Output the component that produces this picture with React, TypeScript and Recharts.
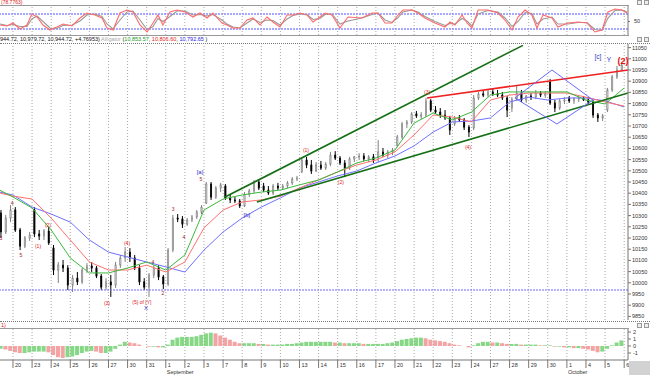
import React from 'react';
import {
  ComposedChart,
  Bar,
  Line,
  XAxis,
  YAxis,
  ReferenceLine,
  ReferenceDot,
  Cell,
} from 'recharts';

const FONT = '"Liberation Sans", Arial, sans-serif';
const T_MIN = -0.68;
const T_MAX = 32.2;
const FIRST_BAR = -0.625;
const BAR_STEP = 0.25;

// session labels, one per day boundary (Aug 20 .. Oct 6, 2010)
const dayLabels = [
  '20', '23', '24', '25', '26', '27', '30', '31', '1', '2', '3', '7', '8', '9', '10', '13', '14',
  '15', '16', '17', '20', '21', '22', '23', '24', '27', '28', '29', '30', '1', '4', '5', '6',
];
const monthLabels: Record<number, string> = { 8: 'September', 29: 'October' };

// four bars per session, first three belong to Aug 19
const opens = [
  10312, 10227, 10289,
  10325, 10236, 10164, 10200, 10325, 10218, 10209, 10231, 10155, 10057, 10079, 10066,
  9990, 10021, 10004, 10057, 10075, 10066, 10030, 9981, 10004, 9990, 10079, 10111,
  10137, 10111, 10066, 10004, 9981, 10035, 10066, 10026, 9995, 10146, 10289, 10285,
  10262, 10280, 10294, 10316, 10356, 10441, 10383, 10423, 10432, 10379, 10370, 10365,
  10343, 10396, 10410, 10450, 10432, 10414, 10401, 10432, 10423, 10432, 10446, 10463,
  10495, 10548, 10526, 10499, 10526, 10512, 10530, 10570, 10557, 10535, 10512, 10553,
  10562, 10566, 10553, 10562, 10557, 10584, 10570, 10584, 10615, 10651, 10709, 10718,
  10754, 10745, 10749, 10812, 10771, 10762, 10749, 10736, 10709, 10736, 10727, 10695,
  10691, 10825, 10843, 10838, 10852, 10843, 10838, 10825, 10780, 10820, 10847, 10816,
  10834, 10829, 10847, 10838, 10896, 10803, 10780, 10812, 10825, 10812, 10820, 10825,
  10816, 10807, 10749, 10736, 10771, 10861, 10919, 10950,
];
const highs = [
  10325, 10303, 10347,
  10338, 10245, 10209, 10227, 10338, 10236, 10240, 10249, 10169, 10093, 10102, 10079,
  10035, 10048, 10066, 10088, 10093, 10075, 10039, 10021, 10035, 10093, 10124, 10160,
  10155, 10124, 10079, 10021, 10044, 10079, 10079, 10035, 10155, 10303, 10307, 10298,
  10289, 10303, 10325, 10347, 10450, 10450, 10432, 10446, 10441, 10392, 10383, 10374,
  10405, 10419, 10459, 10463, 10446, 10432, 10441, 10446, 10441, 10454, 10472, 10477,
  10557, 10562, 10548, 10539, 10544, 10539, 10584, 10588, 10566, 10548, 10562, 10566,
  10579, 10579, 10570, 10575, 10637, 10602, 10593, 10602, 10660, 10718, 10727, 10762,
  10767, 10762, 10825, 10820, 10789, 10780, 10771, 10745, 10745, 10749, 10736, 10704,
  10838, 10852, 10856, 10861, 10865, 10861, 10852, 10834, 10829, 10883, 10861, 10838,
  10847, 10861, 10856, 10856, 10910, 10816, 10820, 10829, 10834, 10829, 10834, 10834,
  10829, 10816, 10758, 10754, 10870, 10928, 10968, 10980,
];
const lows = [
  10200, 10218, 10271,
  10227, 10146, 10155, 10187, 10204, 10191, 10191, 10169, 10035, 9999, 10048, 9968,
  9959, 9990, 9995, 10044, 10048, 10021, 9968, 9968, 9937, 9977, 10066, 10093,
  10093, 10057, 9990, 9968, 9937, 10021, 10012, 9972, 9986, 10137, 10271, 10245,
  10254, 10271, 10285, 10307, 10352, 10370, 10374, 10405, 10370, 10356, 10356, 10334,
  10338, 10383, 10401, 10414, 10405, 10392, 10392, 10414, 10414, 10423, 10437, 10454,
  10490, 10512, 10486, 10495, 10504, 10504, 10521, 10548, 10526, 10472, 10504, 10539,
  10548, 10544, 10539, 10535, 10539, 10562, 10557, 10570, 10606, 10642, 10691, 10709,
  10736, 10731, 10740, 10762, 10754, 10736, 10727, 10660, 10700, 10718, 10682, 10651,
  10682, 10816, 10829, 10829, 10834, 10829, 10816, 10740, 10762, 10812, 10807, 10803,
  10816, 10820, 10829, 10825, 10794, 10762, 10771, 10798, 10803, 10798, 10807, 10812,
  10798, 10736, 10718, 10722, 10762, 10852, 10910, 10945,
];
const closes = [
  10227, 10289, 10325,
  10236, 10164, 10200, 10213, 10218, 10209, 10231, 10178, 10057, 10079, 10066, 9990,
  10021, 10004, 10057, 10075, 10066, 10030, 9981, 10004, 9990, 10079, 10111, 10137,
  10111, 10066, 10004, 9981, 10035, 10066, 10026, 9995, 10146, 10289, 10285, 10262,
  10280, 10294, 10316, 10338, 10441, 10383, 10423, 10437, 10379, 10370, 10365, 10343,
  10396, 10410, 10450, 10423, 10414, 10401, 10432, 10423, 10432, 10446, 10463, 10468,
  10548, 10526, 10499, 10526, 10512, 10530, 10570, 10557, 10535, 10512, 10553, 10562,
  10566, 10553, 10562, 10548, 10584, 10570, 10584, 10593, 10651, 10709, 10718, 10754,
  10745, 10749, 10812, 10771, 10762, 10749, 10736, 10682, 10736, 10727, 10695, 10673,
  10825, 10843, 10838, 10852, 10843, 10838, 10825, 10771, 10820, 10847, 10816, 10834,
  10829, 10847, 10838, 10843, 10803, 10780, 10812, 10816, 10812, 10820, 10825, 10816,
  10807, 10749, 10736, 10745, 10861, 10919, 10950, 10972,
];

// awesome-oscillator style histogram, one value per bar (hundreds)
const aoValues = [
  -0.4, -0.5, -0.7,
  -0.9, -1.0, -1.0, -0.9, -0.8, -0.8, -0.8, -0.9, -1.3, -1.6, -1.7, -1.6,
  -1.5, -1.3, -1.0, -0.8, -0.7, -0.8, -1.0, -1.0, -0.8, -0.4, 0.2, 0.6,
  0.5, 0.4, 0.2, 0.0, -0.1, -0.1, -0.2, -0.2, 0.2, 0.9, 1.2, 1.3,
  1.3, 1.3, 1.4, 1.6, 1.8, 1.9, 1.8, 1.5, 1.2, 0.9, 0.6, 0.4,
  0.4, 0.4, 0.4, 0.3, 0.3, 0.2, 0.2, 0.2, 0.2, 0.3, 0.3, 0.4,
  0.5, 0.6, 0.6, 0.6, 0.6, 0.6, 0.6, 0.5, 0.5, 0.4, 0.4, 0.4,
  0.4, 0.3, 0.3, 0.3, 0.3, 0.3, 0.4, 0.5, 0.7, 0.9, 1.0, 1.1,
  1.2, 1.2, 1.1, 0.9, 0.8, 0.7, 0.6, 0.4, 0.2, 0.1, 0.0, -0.2,
  0.1, 0.4, 0.6, 0.6, 0.5, 0.5, 0.4, 0.3, 0.3, 0.3, 0.2, 0.2,
  0.2, 0.2, 0.1, 0.1, 0.1, -0.1, -0.1, -0.2, -0.2, -0.3, -0.3, -0.4,
  -0.5, -0.7, -0.9, -0.8, -0.4, 0.1, 0.5, 0.8,
];

// Alligator lines, read once per session
const maDays = [-0.7, 0, 1, 2, 3, 4, 5, 6, 7, 8, 9, 10, 11, 12, 13, 14, 15, 16, 17, 18, 19, 20, 21, 22, 23, 24, 25, 26, 27, 28, 29, 30, 31, 32];
const jaw = [10405, 10392, 10338, 10307, 10271, 10191, 10137, 10115, 10093, 10071, 10048, 10146, 10227, 10289, 10338, 10379, 10423, 10450, 10477, 10499, 10535, 10566, 10611, 10673, 10718, 10722, 10736, 10807, 10829, 10816, 10825, 10825, 10812, 10785];
const teeth = [10401, 10387, 10374, 10289, 10191, 10093, 10057, 10057, 10079, 10048, 10093, 10245, 10325, 10361, 10370, 10387, 10423, 10459, 10495, 10526, 10548, 10584, 10660, 10749, 10740, 10718, 10816, 10838, 10847, 10847, 10847, 10829, 10807, 10789];
const lips = [10414, 10383, 10334, 10236, 10111, 10044, 10044, 10066, 10093, 10057, 10124, 10325, 10374, 10392, 10405, 10414, 10437, 10459, 10495, 10535, 10557, 10593, 10713, 10758, 10727, 10762, 10838, 10852, 10852, 10852, 10852, 10816, 10798, 10870];

// stochastic
const stochDays = [
  -0.68, -0.31, 0, 0.37, 0.73, 0.99, 1.26, 1.57, 1.94, 2.3, 2.62, 3.09, 3.51, 3.87, 4.29, 4.66, 4.92, 5.24, 5.6, 5.97,
  6.28, 6.65, 7.02, 7.33, 7.59, 7.85, 8.22, 8.59, 9.01, 9.42, 9.79, 10.16, 10.47, 10.94, 11.2, 11.52, 11.88, 12.25, 12.57, 12.93,
  13.3, 13.61, 13.98, 14.35, 14.66, 15.03, 15.39, 15.71, 16.07, 16.34, 16.7, 17.12, 17.54, 18.27, 18.8, 19.11, 19.48, 19.84, 20.16, 20.42,
  20.89, 21.2, 21.57, 22.09, 22.62, 22.88, 23.14, 23.51, 23.77, 24.03, 24.35, 24.87, 25.39, 25.76, 26.13, 26.44, 26.81, 27.17, 27.43, 27.75,
  28.22, 28.53, 29.06, 29.58, 30.05, 30.47, 30.84, 31.15, 31.52, 31.88, 32.15,
];
const stochK = [
  36, 32, 44, 20, 36, 80, 68, 36, 16, 28, 40, 32, 64, 84, 76, 64, 24, 16, 84, 96,
  88, 36, 8, 44, 76, 36, 88, 96, 88, 68, 84, 64, 84, 44, 36, 24, 24, 56, 64, 36,
  68, 48, 28, 76, 76, 84, 76, 48, 68, 84, 76, 24, 68, 64, 84, 84, 44, 44, 76, 96,
  96, 84, 64, 44, 28, 48, 36, 76, 44, 24, 96, 96, 84, 56, 16, 68, 96, 76, 24, 76,
  64, 28, 44, 48, 44, 8, 16, 88, 100, 96, 84,
];
const stochD = [
  40, 34, 38, 30, 30, 60, 72, 50, 24, 22, 34, 36, 52, 76, 80, 70, 40, 20, 56, 88,
  92, 56, 18, 30, 62, 50, 70, 92, 92, 76, 78, 72, 78, 56, 40, 28, 24, 44, 60, 46,
  56, 54, 36, 60, 74, 80, 78, 58, 62, 78, 80, 40, 52, 64, 78, 84, 56, 46, 66, 88,
  96, 88, 70, 50, 34, 42, 40, 62, 52, 32, 80, 94, 88, 64, 30, 50, 86, 82, 40, 60,
  68, 40, 40, 46, 46, 18, 14, 64, 94, 96, 88,
];

const priceTicks = [9850, 9900, 9950, 10000, 10050, 10100, 10150, 10200, 10250, 10300, 10350, 10400, 10450, 10500, 10550, 10600, 10650, 10700, 10750, 10800, 10850, 10900, 10950, 11000, 11050];
const supportLevel = 9968;

// wave count labels (session time, price)
const waveLabels = [
  { t: -0.63, p: 10200, text: '3', color: '#a02020', size: 5 },
  { t: -0.05, p: 10356, text: '4', color: '#a02020', size: 5 },
  { t: 0.42, p: 10124, text: '5', color: '#a02020', size: 5 },
  { t: 1.31, p: 10164, text: '(1)', color: '#e02020', size: 5 },
  { t: 1.83, p: 10258, text: '(2)', color: '#e02020', size: 5 },
  { t: 4.92, p: 9910, text: '(3)', color: '#e02020', size: 5 },
  { t: 5.97, p: 10178, text: '(4)', color: '#e02020', size: 5 },
  { t: 6.75, p: 9914, text: '(5) of [Y]', color: '#e02020', size: 5 },
  { t: 6.96, p: 9887, text: 'X', color: '#3030c0', size: 6 },
  { t: 7.33, p: 10092, text: '4', color: '#a02020', size: 5 },
  { t: 7.85, p: 9954, text: '2', color: '#a02020', size: 5 },
  { t: 8.38, p: 10329, text: '3', color: '#a02020', size: 5 },
  { t: 8.95, p: 10204, text: '4', color: '#a02020', size: 5 },
  { t: 9.79, p: 10495, text: '[a]', color: '#3030c0', size: 6 },
  { t: 9.84, p: 10463, text: '5', color: '#a02020', size: 5 },
  { t: 12.25, p: 10303, text: '[b]', color: '#3030c0', size: 6 },
  { t: 15.34, p: 10593, text: '(1)', color: '#e02020', size: 5 },
  { t: 17.17, p: 10450, text: '(2)', color: '#e02020', size: 5 },
  { t: 21.68, p: 10852, text: '(3)', color: '#e02020', size: 5 },
  { t: 23.82, p: 10606, text: '(4)', color: '#e02020', size: 5 },
  { t: 30.63, p: 11012, text: '[c]', color: '#3030c0', size: 6.5 },
  { t: 31.2, p: 10999, text: 'Y', color: '#3030c0', size: 6.5 },
  { t: 31.94, p: 10990, text: '(2)', color: '#e01010', size: 9 },
];

const upperChannel = [{ x: 11.1, y: 10383 }, { x: 26.7, y: 11060 }];
const lowerChannel = [{ x: 12.77, y: 10361 }, { x: 32.2, y: 10847 }];
const redLine = [{ x: 21.68, y: 10825 }, { x: 32.2, y: 10950 }];
const diamond = [
  { x: 26.28, y: 10825 },
  { x: 28.22, y: 10950 },
  { x: 30.37, y: 10816 },
  { x: 28.48, y: 10709 },
];

const candles = opens.map((o, i) => ({
  t: FIRST_BAR + i * BAR_STEP,
  open: o,
  high: highs[i],
  low: lows[i],
  close: closes[i],
  range: [lows[i], highs[i]],
  ao: aoValues[i],
}));
const maRows = maDays.map((t, i) => ({ t, jaw: jaw[i], teeth: teeth[i], lips: lips[i] }));
const stochRows = stochDays.map((t, i) => ({ t, k: stochK[i], d: stochD[i] }));
const dayIdx = dayLabels.map((_, i) => i);

function Candle(props: any) {
  const { x, y, width, height, payload } = props;
  const { open, close, high, low } = payload;
  const span = high - low || 1;
  const yOf = (v: number) => y + ((high - v) / span) * height;
  const top = yOf(Math.max(open, close));
  const bot = yOf(Math.min(open, close));
  const up = close >= open;
  const cx = x + width / 2;
  const col = up ? '#808080' : '#000';
  return (
    <g>
      <line x1={cx} x2={cx} y1={y} y2={y + height} stroke={col} strokeWidth={1} />
      <rect
        x={x}
        y={top}
        width={width}
        height={Math.max(bot - top, 1)}
        fill={up ? '#cfcfcf' : '#000'}
        stroke={col}
        strokeWidth={0.6}
      />
    </g>
  );
}

function DayTick({ x, y, payload }: any) {
  const d = payload.value;
  return (
    <g>
      <line x1={x} x2={x} y1={y} y2={y + 8} stroke="#777" />
      <text x={x + 2} y={y + 7} fontSize={5.5} fill="#333" fontFamily={FONT}>
        {dayLabels[d]}
      </text>
      {monthLabels[d] && (
        <text x={x + 1} y={y + 14} fontSize={5.5} fill="#333" fontFamily={FONT}>
          {monthLabels[d]}
        </text>
      )}
    </g>
  );
}

function dayGrid() {
  return dayIdx.map((d) => (
    <ReferenceLine key={'g' + d} x={d} stroke="#a8a8a8" strokeDasharray="1 2" />
  ));
}

const tickStyle = { fontSize: 5.5, fill: '#333', fontFamily: FONT };

function Box({ left, top }: { left: number; top: number }) {
  return (
    <div
      style={{
        position: 'absolute',
        left,
        top,
        width: 5,
        height: 5,
        border: '1px solid #999',
        background: '#eee',
        boxSizing: 'border-box',
      }}
    />
  );
}

export default function App() {
  return (
    <div
      style={{
        position: 'absolute',
        left: 0,
        top: 0,
        width: 650,
        height: 375,
        background: '#fff',
        overflow: 'hidden',
        fontFamily: FONT,
      }}
    >
      {/* stochastic panel */}
      <div style={{ position: 'absolute', left: 0, top: 0 }}>
        <ComposedChart width={650} height={38} data={stochRows} margin={{ top: 5, right: 0, bottom: 3, left: 0 }}>
          <XAxis dataKey="t" type="number" domain={[T_MIN, T_MAX]} allowDataOverflow hide />
          <YAxis
            orientation="right"
            width={22}
            domain={[-4, 116]}
            ticks={[50]}
            allowDataOverflow
            tick={tickStyle}
            tickSize={2}
            tickMargin={4}
            stroke="#777"
          />
          {dayGrid()}
          <ReferenceLine y={80} stroke="#8c8cff" strokeWidth={1.5} strokeDasharray="2 1" />
          <ReferenceLine y={20} stroke="#8c8cff" strokeWidth={1.5} strokeDasharray="2 1" />
          <Line dataKey="d" stroke="#9a9a9a" strokeWidth={1.1} dot={false} isAnimationActive={false} />
          <Line dataKey="k" stroke="#ff6a6a" strokeWidth={1.1} dot={false} isAnimationActive={false} />
        </ComposedChart>
      </div>
      <div style={{ position: 'absolute', left: 0, top: 5, width: 629, borderTop: '1px solid #999' }} />
      <div style={{ position: 'absolute', left: 0, top: 35, width: 629, borderTop: '1px solid #999' }} />
      <div style={{ position: 'absolute', left: 1, top: 0, fontSize: 5, lineHeight: '5px', color: '#e02020' }}>(78.7763)</div>
      <Box left={637} top={0} />
      <Box left={644} top={0} />

      {/* header */}
      <div style={{ position: 'absolute', left: 0, top: 36, width: 650, height: 7, fontSize: 5.5, lineHeight: '7px', whiteSpace: 'nowrap', color: '#111' }}>
        944.72, 10,979.72, 10,944.72, +4.76953) <span style={{ color: '#aaa' }}>Alligator</span> (
        <span style={{ color: '#1a9a1a' }}>10,853.57</span>, <span style={{ color: '#e02020' }}>10,806.60</span>,{' '}
        <span style={{ color: '#2020e0' }}>10,792.65</span> )
      </div>
      <Box left={637} top={37} />
      <Box left={644} top={37} />
      <div style={{ position: 'absolute', left: 0, top: 43, width: 650, borderTop: '1px dotted #777' }} />

      {/* price panel */}
      <div style={{ position: 'absolute', left: 0, top: 44 }}>
        <ComposedChart width={650} height={276} data={candles} margin={{ top: 0, right: 0, bottom: 0, left: 0 }}>
          <XAxis dataKey="t" type="number" domain={[T_MIN, T_MAX]} allowDataOverflow hide />
          <YAxis
            orientation="right"
            width={22}
            domain={[9834, 11066]}
            ticks={priceTicks}
            interval={0}
            allowDataOverflow
            tick={tickStyle}
            tickSize={3}
            tickMargin={1}
            stroke="#777"
          />
          {dayGrid()}
          <ReferenceLine y={supportLevel} stroke="#6a6aff" strokeWidth={1.2} strokeDasharray="2 1" />
          <Line data={maRows} dataKey="jaw" stroke="#7070ff" strokeWidth={1} dot={false} isAnimationActive={false} />
          <Line data={maRows} dataKey="teeth" stroke="#ff7070" strokeWidth={1} dot={false} isAnimationActive={false} />
          <Line data={maRows} dataKey="lips" stroke="#3cb83c" strokeWidth={1} dot={false} isAnimationActive={false} />
          <Bar dataKey="range" barSize={3} shape={<Candle />} isAnimationActive={false} />
          <ReferenceLine segment={upperChannel} stroke="#157015" strokeWidth={1.6} />
          <ReferenceLine segment={lowerChannel} stroke="#157015" strokeWidth={1.6} />
          <ReferenceLine segment={redLine} stroke="#ee2020" strokeWidth={1.6} />
          {diamond.map((pt, i) => (
            <ReferenceLine
              key={'dm' + i}
              segment={[pt, diamond[(i + 1) % diamond.length]]}
              stroke="#6a6aff"
              strokeWidth={1}
            />
          ))}
          {waveLabels.map((w, i) => (
            <ReferenceDot
              key={'w' + i}
              x={w.t}
              y={w.p}
              r={1}
              shape={(p: any) => (
                <text
                  x={p.cx}
                  y={p.cy}
                  textAnchor="middle"
                  dominantBaseline="central"
                  fontSize={w.size}
                  fontWeight={w.size > 8 ? 'bold' : 'normal'}
                  fill={w.color}
                  fontFamily={FONT}
                >
                  {w.text}
                </text>
              )}
            />
          ))}
        </ComposedChart>
      </div>

      {/* oscillator panel */}
      <div style={{ position: 'absolute', left: 0, top: 321, width: 650, borderTop: '1px dotted #777' }} />
      <div style={{ position: 'absolute', left: 1, top: 322, fontSize: 5.5, lineHeight: '6px', color: '#e02020' }}>1)</div>
      <Box left={637} top={323} />
      <Box left={644} top={323} />
      <div style={{ position: 'absolute', left: 0, top: 328, width: 629, borderTop: '1px solid #999' }} />
      <div style={{ position: 'absolute', left: 0, top: 329 }}>
        <ComposedChart width={650} height={46} data={candles} margin={{ top: 0, right: 0, bottom: 0, left: 0 }}>
          <XAxis
            dataKey="t"
            type="number"
            domain={[T_MIN, T_MAX]}
            allowDataOverflow
            ticks={dayIdx}
            interval={0}
            height={15}
            tick={<DayTick />}
            tickLine={false}
            tickSize={0}
            tickMargin={0}
            stroke="#777"
          />
          <YAxis
            orientation="right"
            width={22}
            domain={[-2, 2.43]}
            ticks={[2, 1, 0, -1]}
            interval={0}
            allowDataOverflow
            tick={tickStyle}
            tickSize={3}
            tickMargin={2}
            stroke="#777"
          />
          {dayGrid()}
          <Bar dataKey="ao" barSize={4} isAnimationActive={false}>
            {candles.map((c, i) => (
              <Cell
                key={'ao' + i}
                fill={i === 0 || c.ao >= candles[i - 1].ao ? '#86d886' : '#f3a3a3'}
              />
            ))}
          </Bar>
        </ComposedChart>
      </div>
      <div style={{ position: 'absolute', left: 629, top: 361, width: 21, height: 14, background: '#d2d2d2' }} />
    </div>
  );
}
